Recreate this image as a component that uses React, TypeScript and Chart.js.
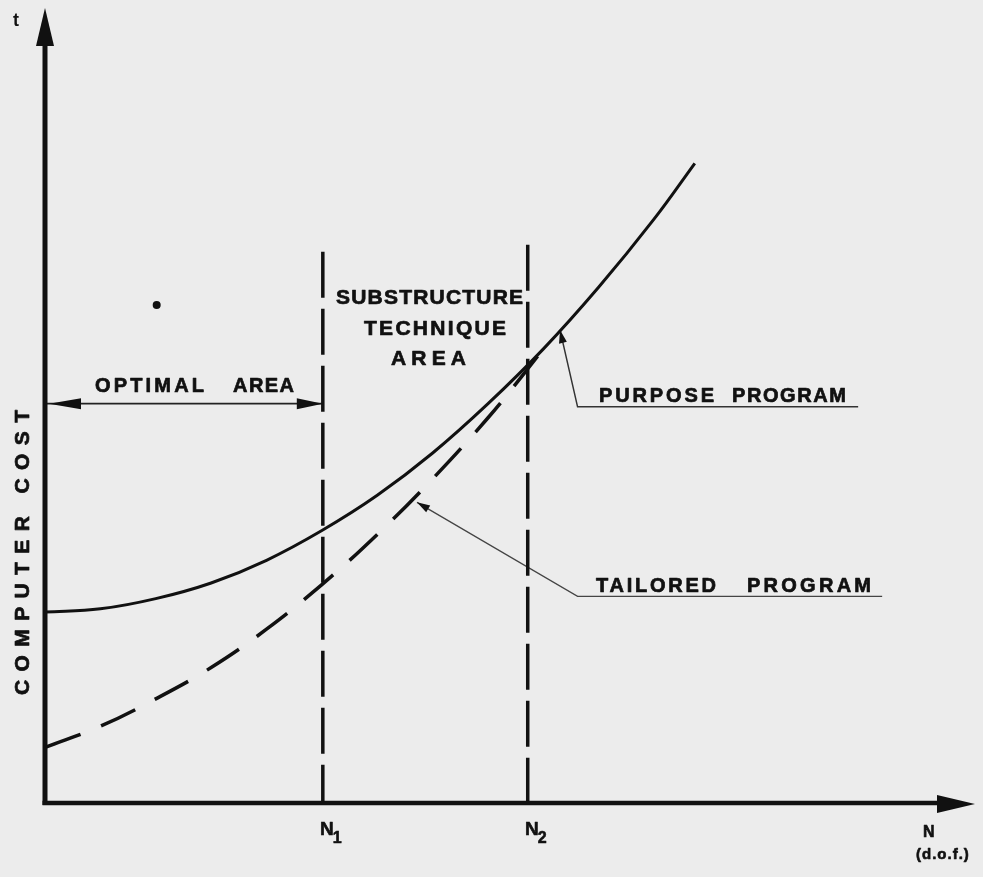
import React, { useEffect, useRef } from "react";
import { Chart, registerables } from "chart.js";

Chart.register(...registerables);

// ---- data (abstract units: N on x 0..100, cost on y 0..100) ----
const purposeX = [0, 6, 12, 18, 24, 30, 36, 42, 48, 54, 60, 66, 70.4];
const purposeY = [24.4, 24.8, 26.1, 28.1, 31.0, 34.8, 39.3, 44.7, 51.0, 58.0, 65.9, 74.6, 81.7];

const tailoredX = [0, 6, 12, 18, 24, 30, 36, 42, 48, 52, 54];
const tailoredY = [7.1, 9.8, 13.3, 17.3, 22.2, 27.9, 34.3, 41.4, 49.2, 55.0, 58.0];

const boundaryNames = ["1", "2"];
const boundaryX = [30.1, 52.3];
const boundaryTop = [70.4, 71.3];

const optimalY = 51.0;

const purposeLeaderX = [88.1, 57.7, 55.8];
const purposeLeaderY = [50.6, 50.6, 60.4];
const tailoredLeaderX = [90.7, 57.7, 40.3];
const tailoredLeaderY = [26.4, 26.4, 38.4];

const strayDot = [{ x: 12.1, y: 63.6 }];

const INK = "#111111";
const BG = "#ececec";
const FONT = '"Liberation Sans", Arial, sans-serif';

const pts = (xs: number[], ys: number[]) => xs.map((x, i) => ({ x, y: ys[i] }));

function spaced(ctx: CanvasRenderingContext2D, text: string, x0: number, x1: number, cy: number, size: number) {
  ctx.font = `bold ${size}px ${FONT}`;
  (ctx as any).letterSpacing = "0px";
  const w = ctx.measureText(text).width;
  const n = text.length;
  const sp = n > 1 ? (x1 - x0 - w) / (n - 1) : 0;
  (ctx as any).letterSpacing = `${sp}px`;
  ctx.textAlign = "left";
  ctx.textBaseline = "alphabetic";
  const by = cy + (size * 0.716) / 2;
  ctx.lineWidth = 0.7;
  ctx.lineJoin = "round";
  ctx.fillText(text, x0, by);
  ctx.strokeText(text, x0, by);
  (ctx as any).letterSpacing = "0px";
}

function arrowHead(ctx: CanvasRenderingContext2D, tx: number, ty: number, fx: number, fy: number, len: number, hw: number) {
  const a = Math.atan2(ty - fy, tx - fx);
  const bx = tx - Math.cos(a) * len;
  const by = ty - Math.sin(a) * len;
  ctx.beginPath();
  ctx.moveTo(tx, ty);
  ctx.lineTo(bx + Math.sin(a) * hw, by - Math.cos(a) * hw);
  ctx.lineTo(bx - Math.sin(a) * hw, by + Math.cos(a) * hw);
  ctx.closePath();
  ctx.fill();
}

const O = 8; // canvas offset in page

const schematic = {
  id: "schematic",
  beforeDraw(chart: any) {
    const ctx = chart.ctx;
    ctx.save();
    ctx.fillStyle = BG;
    ctx.fillRect(0, 0, chart.width, chart.height);
    ctx.restore();
  },
  afterDatasetsDraw(chart: any) {
    const ctx: CanvasRenderingContext2D = chart.ctx;
    const xs = chart.scales.x;
    const ys = chart.scales.y;
    const x0 = xs.getPixelForValue(0);
    const y0 = ys.getPixelForValue(0);
    ctx.save();
    ctx.fillStyle = INK;
    ctx.strokeStyle = INK;

    // axes
    ctx.lineWidth = 5;
    ctx.beginPath();
    ctx.moveTo(x0, y0 + 2);
    ctx.lineTo(x0, 36);
    ctx.stroke();
    arrowHead(ctx, x0, 0, x0, 40, 38, 9);
    ctx.lineWidth = 4.5;
    ctx.beginPath();
    ctx.moveTo(x0 - 2.5, y0);
    ctx.lineTo(935, y0);
    ctx.stroke();
    arrowHead(ctx, 967, y0 + 1, 900, y0 + 1, 38, 9);

    // optimal area arrowheads
    const oy = ys.getPixelForValue(optimalY);
    const n1 = xs.getPixelForValue(boundaryX[0]);
    arrowHead(ctx, x0 + 4, oy, n1, oy, 32, 5.5);
    arrowHead(ctx, n1, oy, x0, oy, 26, 5.5);

    // leader arrowheads
    const pl = purposeLeaderX.length - 1;
    arrowHead(ctx,
      xs.getPixelForValue(purposeLeaderX[pl]), ys.getPixelForValue(purposeLeaderY[pl]),
      xs.getPixelForValue(purposeLeaderX[pl - 1]), ys.getPixelForValue(purposeLeaderY[pl - 1]), 13, 4);
    const tl = tailoredLeaderX.length - 1;
    arrowHead(ctx,
      xs.getPixelForValue(tailoredLeaderX[tl]), ys.getPixelForValue(tailoredLeaderY[tl]),
      xs.getPixelForValue(tailoredLeaderX[tl - 1]), ys.getPixelForValue(tailoredLeaderY[tl - 1]), 13, 4);

    // texts (page coordinates minus offset)
    ctx.font = `bold 18px ${FONT}`;
    ctx.textAlign = "left";
    ctx.textBaseline = "alphabetic";
    ctx.fillText("t", 13 - O, 26 - O);

    ctx.save();
    ctx.translate(21 - O, 552.5 - O);
    ctx.rotate(-Math.PI / 2);
    spaced(ctx, "COMPUTER COST", -142.5, 142.5, 0, 21);
    ctx.restore();

    spaced(ctx, "OPTIMAL", 95 - O, 204 - O, 385 - O, 20);
    spaced(ctx, "AREA", 233 - O, 294 - O, 385 - O, 20);

    spaced(ctx, "SUBSTRUCTURE", 336 - O, 523 - O, 296 - O, 21);
    spaced(ctx, "TECHNIQUE", 364 - O, 506 - O, 327 - O, 21);
    spaced(ctx, "AREA", 391 - O, 466 - O, 357 - O, 21);

    spaced(ctx, "PURPOSE", 599 - O, 714 - O, 395 - O, 20);
    spaced(ctx, "PROGRAM", 732 - O, 846 - O, 395 - O, 20);
    spaced(ctx, "TAILORED", 596 - O, 716 - O, 585 - O, 20);
    spaced(ctx, "PROGRAM", 747 - O, 871 - O, 585 - O, 20);

    // boundary tick labels N1, N2
    ctx.lineWidth = 0.6;
    boundaryX.forEach((bx, i) => {
      const px = xs.getPixelForValue(bx);
      ctx.font = `bold 19px ${FONT}`;
      ctx.textAlign = "right";
      ctx.fillText("N", px + 11, 835 - O);
      ctx.strokeText("N", px + 11, 835 - O);
      ctx.font = `bold 16px ${FONT}`;
      ctx.textAlign = "left";
      ctx.fillText(boundaryNames[i], px + 10, 843 - O);
      ctx.strokeText(boundaryNames[i], px + 10, 843 - O);
    });

    // axis title
    ctx.font = `bold 16px ${FONT}`;
    ctx.textAlign = "left";
    ctx.fillText("N", 923 - O, 837 - O);
    ctx.strokeText("N", 923 - O, 837 - O);
    (ctx as any).letterSpacing = "1px";
    ctx.font = `bold 15px ${FONT}`;
    ctx.fillText("(d.o.f.)", 916 - O, 859 - O);
    ctx.strokeText("(d.o.f.)", 916 - O, 859 - O);
    (ctx as any).letterSpacing = "0px";

    ctx.restore();
  },
};

export default function App() {
  const ref = useRef<HTMLCanvasElement | null>(null);
  useEffect(() => {
    document.body.style.background = BG;
    if (!ref.current) return;
    const boundarySets = boundaryX.map((bx, i) => ({
      label: "N" + boundaryNames[i],
      data: [{ x: bx, y: boundaryTop[i] }, { x: bx, y: 0 }],
      showLine: true,
      borderColor: INK,
      borderWidth: 3.5,
      borderDash: [46, 11],
      pointRadius: 0,
    }));
    const chart = new Chart(ref.current, {
      type: "scatter",
      data: {
        datasets: [
          {
            label: "Purpose program",
            data: pts(purposeX, purposeY),
            showLine: true,
            borderColor: INK,
            borderWidth: 3,
            pointRadius: 0,
            tension: 0.4,
          } as any,
          {
            label: "Tailored program",
            data: pts(tailoredX, tailoredY),
            showLine: true,
            borderColor: INK,
            borderWidth: 3.5,
            borderDash: [38, 22],
            pointRadius: 0,
            tension: 0.4,
          },
          ...boundarySets,
          {
            label: "Optimal area",
            data: [{ x: 0, y: optimalY }, { x: boundaryX[0], y: optimalY }],
            showLine: true,
            borderColor: "#222",
            borderWidth: 1.8,
            pointRadius: 0,
          },
          {
            label: "Purpose leader",
            data: pts(purposeLeaderX, purposeLeaderY),
            showLine: true,
            borderColor: "#333",
            borderWidth: 1.5,
            pointRadius: 0,
          },
          {
            label: "Tailored leader",
            data: pts(tailoredLeaderX, tailoredLeaderY),
            showLine: true,
            borderColor: "#444",
            borderWidth: 1.3,
            pointRadius: 0,
          },
          {
            label: "dot",
            data: strayDot,
            pointRadius: 4,
            pointBackgroundColor: INK,
            pointBorderWidth: 0,
          },
        ],
      },
      options: {
        animation: false,
        responsive: true,
        maintainAspectRatio: false,
        events: [],
        layout: { padding: { left: 37, top: 12, right: 7, bottom: 65 } },
        plugins: { legend: { display: false }, tooltip: { enabled: false } },
        scales: {
          x: { type: "linear", min: 0, max: 100, display: false },
          y: { type: "linear", min: 0, max: 100, display: false },
        },
      },
      plugins: [schematic],
    });
    return () => chart.destroy();
  }, []);
  return (
    <div style={{ width: 967, height: 860, position: "relative" }}>
      <canvas ref={ref} />
    </div>
  );
}
